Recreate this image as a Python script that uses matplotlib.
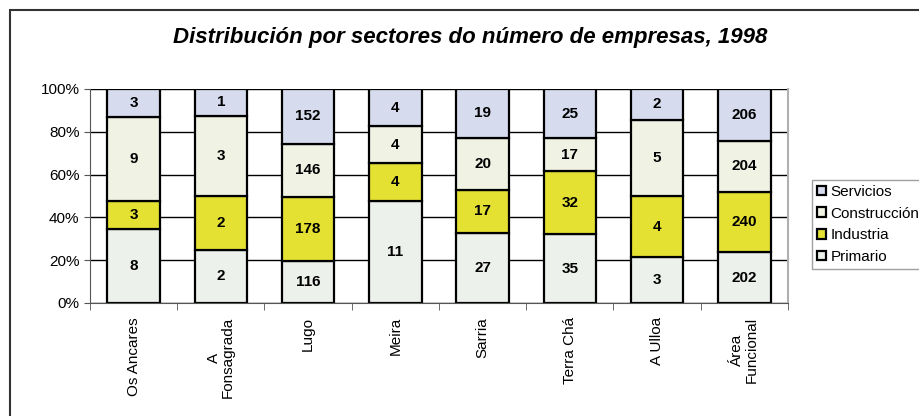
import matplotlib
matplotlib.use("Agg")
import matplotlib.pyplot as plt
from matplotlib.patches import Rectangle
import numpy as np

categories = ["Os Ancares", "A\nFonsagrada", "Lugo", "Meira", "Sarria", "Terra Chá", "A Ulloa", "Área\nFuncional"]
primario = [8, 2, 116, 11, 27, 35, 3, 202]
industria = [3, 2, 178, 4, 17, 32, 4, 240]
construccion = [9, 3, 146, 4, 20, 17, 5, 204]
servicios = [3, 1, 152, 4, 19, 25, 2, 206]
series_names = ["Primario", "Industria", "Construcción", "Servicios"]
colors = ["#EDF1EC", "#E4E133", "#F0F2E4", "#D6DCEE"]

fig = plt.figure(figsize=(9.2, 4.16), dpi=100)
fig.patches.append(Rectangle((10/920, -0.1), 1.0, (416-10)/416 + 0.1, transform=fig.transFigure,
                             fill=False, edgecolor="#333333", linewidth=1.5))
ax = fig.add_axes([90/920, 1 - 303/416, (788-90)/920, (303-89)/416])

data = np.array([primario, industria, construccion, servicios], dtype=float)
totals = data.sum(axis=0)
pct = data / totals * 100
x = np.arange(len(categories))
bottom = np.zeros(len(categories))
ax.set_axisbelow(True)
for i, name in enumerate(series_names):
    ax.bar(x, pct[i], bottom=bottom, width=0.6, color=colors[i], edgecolor="black",
           linewidth=1.6, label=name, zorder=2)
    for j in range(len(categories)):
        ax.text(x[j], bottom[j] + pct[i][j] / 2, f"{int(data[i][j])}", ha="center", va="center",
                fontsize=11, fontweight="bold", family="Liberation Sans", zorder=3)
    bottom += pct[i]

ax.set_xlim(-0.5, len(categories) - 0.5)
ax.set_ylim(0, 100)
ax.set_yticks(np.arange(0, 101, 20))
ax.set_yticklabels([f"{v}%" for v in range(0, 101, 20)], family="Liberation Sans", fontsize=11)
ax.yaxis.grid(True, color="black", linewidth=1.0, zorder=0)
ax.set_xticks(x)
ax.set_xticklabels(categories, rotation=90, family="Liberation Sans", fontsize=11, va="top", ha="center",
                   linespacing=1.0)
ax.tick_params(axis="x", length=0, pad=10)
ax.set_xticks(np.arange(-0.5, len(categories), 1), minor=True)
ax.tick_params(axis="x", which="minor", length=5, direction="out", color="#555555")
ax.tick_params(axis="y", length=4, direction="out", color="#555555")
ax.spines["top"].set_visible(False)
ax.spines["right"].set_color("#b0b0b0")
ax.spines["right"].set_linewidth(1.5)
ax.spines["bottom"].set_color("#555555")
ax.spines["left"].set_color("#555555")

fig.text(470/920, 1 - 37/416, "Distribución por sectores do número de empresas, 1998",
         ha="center", va="center", fontsize=16, fontweight="bold", style="italic", family="Liberation Sans")

handles, labels = ax.get_legend_handles_labels()
leg = fig.legend(handles[::-1], labels[::-1], loc="upper left", bbox_to_anchor=(804/920, 1 - 172/416),
                 frameon=True, fancybox=False, edgecolor="#888888", handlelength=0.6, handleheight=0.6,
                 handletextpad=0.3, borderpad=0.35, labelspacing=0.5, prop={"family": "Liberation Sans", "size": 11})
leg.get_frame().set_linewidth(1.0)

fig.savefig("out.png", dpi=100)
